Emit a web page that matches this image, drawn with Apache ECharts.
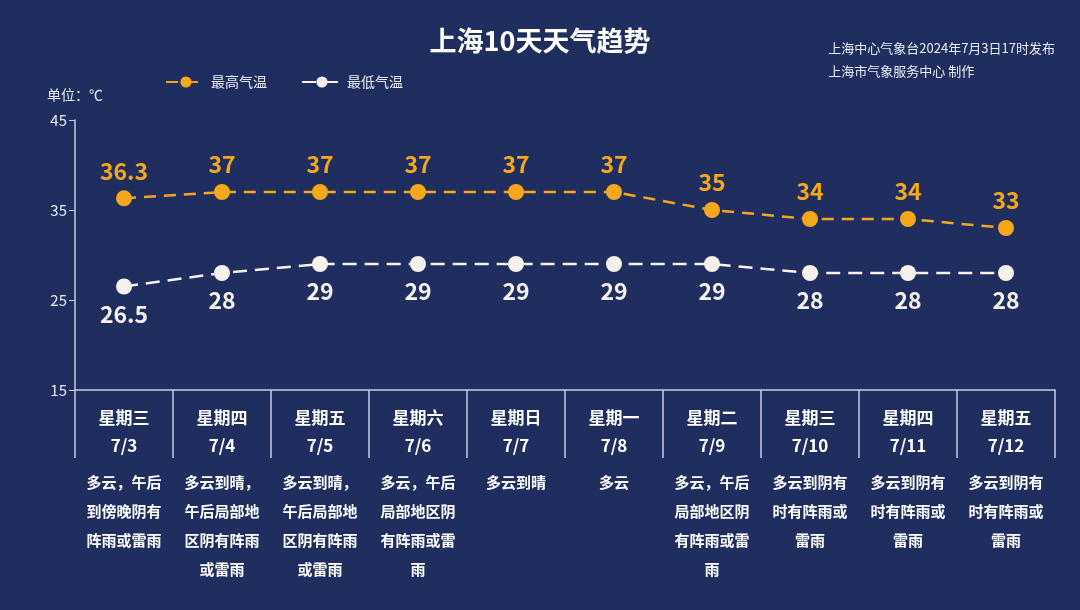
<!DOCTYPE html>
<html lang="zh">
<head>
<meta charset="UTF-8">
<title>上海10天天气趋势</title>
<style>
  html, body { margin: 0; padding: 0; background: #1f2e5e; }
  #main { width: 1080px; height: 610px; }
</style>
</head>
<body>
<div id="main"></div>
<script src="https://cdn.jsdelivr.net/npm/echarts@6/dist/echarts.min.js"></script>
<script>
  const weekdays = ['星期三', '星期四', '星期五', '星期六', '星期日', '星期一', '星期二', '星期三', '星期四', '星期五'];
  const dates = ['7/3', '7/4', '7/5', '7/6', '7/7', '7/8', '7/9', '7/10', '7/11', '7/12'];
  const weather = [
    ['多云，午后', '到傍晚阴有', '阵雨或雷雨'],
    ['多云到晴，', '午后局部地', '区阴有阵雨', '或雷雨'],
    ['多云到晴，', '午后局部地', '区阴有阵雨', '或雷雨'],
    ['多云，午后', '局部地区阴', '有阵雨或雷', '雨'],
    ['多云到晴'],
    ['多云'],
    ['多云，午后', '局部地区阴', '有阵雨或雷', '雨'],
    ['多云到阴有', '时有阵雨或', '雷雨'],
    ['多云到阴有', '时有阵雨或', '雷雨'],
    ['多云到阴有', '时有阵雨或', '雷雨']
  ];
  const highTemp = [36.3, 37, 37, 37, 37, 37, 35, 34, 34, 33];
  const lowTemp = [26.5, 28, 29, 29, 29, 29, 29, 28, 28, 28];

  const font = '"Noto Sans CJK SC", sans-serif';
  const chart = echarts.init(document.getElementById('main'));
  chart.setOption({
    backgroundColor: '#1f2e5e',
    textStyle: { fontFamily: font },
    title: [
      { text: '上海10天天气趋势', left: 'center', top: 22,
        textStyle: { color: '#fff', fontSize: 27, fontWeight: 'bold', fontFamily: font } },
      { text: '上海中心气象台2024年7月3日17时发布\n上海市气象服务中心 制作', right: 20, top: 32,
        textStyle: { color: '#e8ecf5', fontSize: 13, fontWeight: 'normal', lineHeight: 23,
          align: 'right', fontFamily: font } }
    ],
    legend: {
      left: 160, top: 70, itemGap: 34, itemWidth: 40, itemHeight: 14,
      textStyle: { color: '#e8ecf5', fontSize: 14, fontFamily: font },
      data: ['最高气温', '最低气温']
    },
    grid: { left: 75, right: 25, top: 120, bottom: 220 },
    xAxis: {
      type: 'category',
      data: weekdays.map((w, i) => String(i)),
      axisLine: { show: true, lineStyle: { color: '#c8cede', width: 1.5 } },
      axisTick: { show: true, interval: 0, inside: false, length: 68,
        lineStyle: { color: '#c8cede', width: 1.5 } },
      axisLabel: {
        margin: 14,
        interval: 0,
        formatter: function (v) {
          const i = +v;
          return '{d|' + weekdays[i] + '}\n{d|' + dates[i] + '}\n{g|}\n' +
            weather[i].map(s => '{t|' + s + '}').join('\n');
        },
        rich: {
          d: { color: '#fff', fontSize: 17, fontWeight: 'bold', lineHeight: 28, fontFamily: font },
          g: { lineHeight: 8 },
          t: { color: '#fff', fontSize: 15, fontWeight: 'bold', lineHeight: 29, fontFamily: font }
        }
      }
    },
    yAxis: {
      type: 'value', min: 15, max: 45, interval: 10,
      name: '单位：℃', nameLocation: 'end', nameGap: 18,
      nameTextStyle: { color: '#e8ecf5', fontSize: 14, align: 'right', padding: [0, -28, 0, 0] },
      axisLine: { show: true, lineStyle: { color: '#c8cede', width: 1.5 } },
      axisTick: { show: true, length: 6, lineStyle: { color: '#c8cede' } },
      axisLabel: { color: '#e8ecf5', fontSize: 15, margin: 8 },
      splitLine: { show: false }
    },
    series: [
      {
        name: '最高气温', type: 'line', data: highTemp,
        symbol: 'circle', symbolSize: 16,
        itemStyle: { color: '#f6a81c' },
        lineStyle: { color: '#f6a81c', width: 2.5, type: [12, 8] },
        label: { show: true, position: 'top', distance: 8, color: '#f6a81c',
          fontSize: 23, fontWeight: 'bold', fontFamily: font }
      },
      {
        name: '最低气温', type: 'line', data: lowTemp,
        symbol: 'circle', symbolSize: 16,
        itemStyle: { color: '#f7f1ee' },
        lineStyle: { color: '#f7f1ee', width: 2.5, type: [14, 8] },
        label: { show: true, position: 'bottom', distance: 8, color: '#f7f1ee',
          fontSize: 23, fontWeight: 'bold', fontFamily: font }
      }
    ]
  });
</script>
</body>
</html>
